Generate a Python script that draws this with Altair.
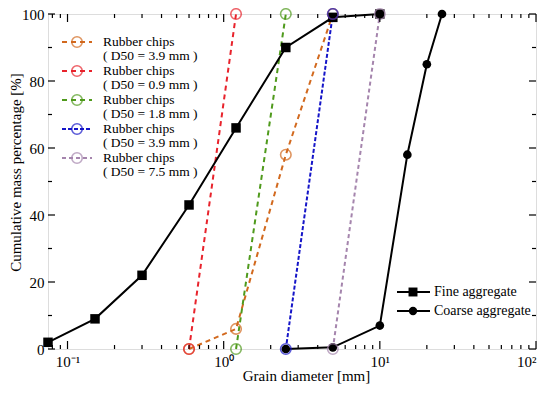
import altair as alt
import pandas as pd

# ---------------- data ----------------
fine_d = [0.075, 0.15, 0.3, 0.6, 1.2, 2.5, 5, 10]
fine_p = [2, 9, 22, 43, 66, 90, 99, 100]

coarse_d = [2.5, 5, 10, 15, 20, 25]
coarse_p = [0, 0.5, 7, 58, 85, 100]

rubber_keys = ["R1", "R2", "R3", "R4", "R5"]
rubber_labels = [["Rubber chips", "( D50 = 3.9 mm )"],
                 ["Rubber chips", "( D50 = 0.9 mm )"],
                 ["Rubber chips", "( D50 = 1.8 mm )"],
                 ["Rubber chips", "( D50 = 3.9 mm )"],
                 ["Rubber chips", "( D50 = 7.5 mm )"]]
rubber_colors = ["#d2691e", "#e8232c", "#4f9a1c", "#1515c8", "#a585ad"]
rubber_dashes = [[5, 4], [5, 4], [5, 4], [4, 2], [4, 3]]
rubber_d = [[0.6, 1.2, 2.5, 5],
            [0.6, 1.2],
            [1.2, 2.5],
            [2.5, 5],
            [5, 10]]
rubber_p = [[0, 6, 58, 100],
            [0, 100],
            [0, 100],
            [0, 100],
            [0, 100]]

x_major = [0.1, 1, 10, 100]
x_minor = [0.08, 0.09] + [m * 10 ** e for e in (-1, 0, 1) for m in range(2, 10)]
y_major = [0, 20, 40, 60, 80, 100]
y_minor = [10, 30, 50, 70, 90]

W, H = 488, 335
PAD_L, PAD_T = 40, 6
FONT = "Liberation Serif"

xscale = alt.Scale(type="log", domain=[0.075, 100], nice=False)
yscale = alt.Scale(domain=[0, 100], nice=False)

fine_df = pd.DataFrame({"d": fine_d, "p": fine_p})
coarse_df = pd.DataFrame({"d": coarse_d, "p": coarse_p})
rub_rows = []
for k, ds, ps in zip(rubber_keys, rubber_d, rubber_p):
    for d, p in zip(ds, ps):
        rub_rows.append({"s": k, "d": d, "p": p})
rub_df = pd.DataFrame(rub_rows)

X = alt.X("d:Q", scale=xscale,
          axis=alt.Axis(values=x_major, ticks=False, domain=False, grid=False,
                        labelExpr="datum.value == 0.1 ? '10⁻¹' : datum.value == 1 ? '10⁰' : datum.value == 10 ? '10¹' : '10²'",
                        labelFont=FONT, labelFontSize=15, labelColor="black", labelPadding=5,
                        title="Grain diameter [mm]", titleFont=FONT, titleFontSize=15,
                        titleFontWeight="normal", titleColor="black",
                        titleX=258, titleY=26, titleAnchor="middle", titleAlign="center",
                        titleBaseline="middle"))
Y = alt.Y("p:Q", scale=yscale,
          axis=alt.Axis(values=y_major, ticks=False, domain=False, grid=False,
                        labelFont=FONT, labelFontSize=15, labelColor="black", labelPadding=4,
                        title="Cumulative mass percentage [%]", titleFont=FONT, titleFontSize=15,
                        titleFontWeight="normal", titleColor="black",
                        titleX=-33, titleY=158, titleAngle=-90, titleAlign="center",
                        titleBaseline="middle"))

color = alt.Color("s:N", scale=alt.Scale(domain=rubber_keys, range=rubber_colors), legend=None)
dash = alt.StrokeDash("s:N", scale=alt.Scale(domain=rubber_keys, range=rubber_dashes), legend=None)

rub_lines = alt.Chart(rub_df).mark_line(strokeWidth=2).encode(x=X, y=Y, color=color, strokeDash=dash, detail="s:N")
rub_pts = alt.Chart(rub_df).mark_point(shape="circle", filled=False, size=110, strokeWidth=1.6).encode(
    x=alt.X("d:Q", scale=xscale), y=alt.Y("p:Q", scale=yscale), color=color)

fine_line = alt.Chart(fine_df).mark_line(color="black", strokeWidth=2).encode(
    x=alt.X("d:Q", scale=xscale), y=alt.Y("p:Q", scale=yscale))
fine_pts = alt.Chart(fine_df).mark_point(shape="square", filled=True, color="black", size=90, opacity=1).encode(
    x=alt.X("d:Q", scale=xscale), y=alt.Y("p:Q", scale=yscale))
coarse_line = alt.Chart(coarse_df).mark_line(color="black", strokeWidth=2).encode(
    x=alt.X("d:Q", scale=xscale), y=alt.Y("p:Q", scale=yscale))
coarse_pts = alt.Chart(coarse_df).mark_point(shape="circle", filled=True, color="black", size=75, opacity=1).encode(
    x=alt.X("d:Q", scale=xscale), y=alt.Y("p:Q", scale=yscale))


# ---------------- inward ticks ----------------
def xticks(vals, length):
    df = pd.DataFrame({"d": vals})
    b = alt.Chart(df).mark_rule(color="black", strokeWidth=1.2).encode(
        x=alt.X("d:Q", scale=xscale), y=alt.value(H), y2=alt.value(H - length))
    t = alt.Chart(df).mark_rule(color="black", strokeWidth=1.2).encode(
        x=alt.X("d:Q", scale=xscale), y=alt.value(0), y2=alt.value(length))
    return [b, t]


def yticks(vals, length):
    df = pd.DataFrame({"p": vals})
    l = alt.Chart(df).mark_rule(color="black", strokeWidth=1.2).encode(
        y=alt.Y("p:Q", scale=yscale), x=alt.value(0), x2=alt.value(length))
    r = alt.Chart(df).mark_rule(color="black", strokeWidth=1.2).encode(
        y=alt.Y("p:Q", scale=yscale), x=alt.value(W), x2=alt.value(W - length))
    return [l, r]


tick_layers = xticks(x_major, 8) + xticks(x_minor, 4) + yticks(y_major, 7) + yticks(y_minor, 4)

# ---------------- legends ----------------
leg_rows = [28, 57, 86, 115, 144]
leg_df = pd.DataFrame({"s": rubber_keys, "y": leg_rows})
LEG_FS = 13.5
leg_layers = []
for i, k in enumerate(rubber_keys):
    row = leg_df.iloc[[i]]
    yy = leg_rows[i]
    leg_layers.append(alt.Chart(row).mark_rule(strokeWidth=2, strokeDash=rubber_dashes[i], color=rubber_colors[i]).encode(
        x=alt.value(14), x2=alt.value(44), y=alt.value(yy)))
    leg_layers.append(alt.Chart(row).mark_point(shape="circle", filled=False, size=110, strokeWidth=1.6,
                                                color=rubber_colors[i]).encode(x=alt.value(29), y=alt.value(yy)))
    leg_layers.append(alt.Chart(row).mark_text(align="left", baseline="middle", font=FONT, fontSize=LEG_FS,
                                               color="black").encode(
        x=alt.value(55), y=alt.value(yy), text=alt.value(rubber_labels[i][0])))
    leg_layers.append(alt.Chart(row).mark_text(align="left", baseline="middle", font=FONT, fontSize=LEG_FS,
                                               color="black").encode(
        x=alt.value(55), y=alt.value(yy + LEG_FS), text=alt.value(rubber_labels[i][1])))

agg_names = ["Fine aggregate", "Coarse aggregate"]
agg_shapes = ["square", "circle"]
agg_rows = [278, 297]
for name, shp, yy in zip(agg_names, agg_shapes, agg_rows):
    row = pd.DataFrame({"t": [name]})
    leg_layers.append(alt.Chart(row).mark_rule(strokeWidth=2, color="black").encode(
        x=alt.value(349), x2=alt.value(382), y=alt.value(yy)))
    leg_layers.append(alt.Chart(row).mark_point(shape=shp, filled=True, color="black", opacity=1,
                                                size=80 if shp == "square" else 70).encode(
        x=alt.value(365), y=alt.value(yy)))
    leg_layers.append(alt.Chart(row).mark_text(align="left", baseline="middle", font=FONT, fontSize=14,
                                               color="black").encode(x=alt.value(386), y=alt.value(yy), text="t:N"))

chart = alt.layer(
    rub_lines, fine_line, coarse_line, fine_pts, coarse_pts, rub_pts, *tick_layers, *leg_layers
).properties(
    width=W, height=H,
    autosize=alt.AutoSizeParams(type="none"),
    padding={"left": PAD_L, "top": PAD_T, "right": 534 - PAD_L - W, "bottom": 377 - PAD_T - H}
).configure_view(
    stroke="black", strokeWidth=2
).configure(background="white")

chart.save("out.html", embed_options={"renderer": "svg", "actions": False})
